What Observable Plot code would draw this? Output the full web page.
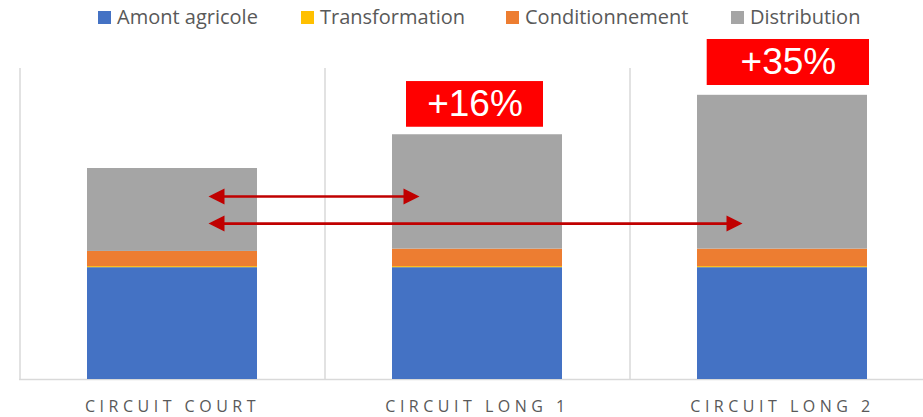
<!DOCTYPE html>
<html><head><meta charset="utf-8">
<script src="https://cdn.jsdelivr.net/npm/d3@7"></script>
<script src="https://cdn.jsdelivr.net/npm/@observablehq/plot@0.6"></script>
<style>
body{margin:0;background:#fff;}
#wrap{position:relative;width:923px;height:417px;overflow:hidden;}
#legend{position:absolute;left:98px;top:7px;display:flex;font-family:"Open Sans",sans-serif;font-size:20px;line-height:20px;color:#595959;white-space:nowrap;}
.item{display:flex;align-items:center;}
.sw{width:13px;height:13px;margin-right:6px;flex:none;}
</style>
</head><body>
<div id="wrap"><div id="legend"></div></div>
<script>
// ---- data ----
const categories = ["CIRCUIT COURT", "CIRCUIT LONG 1", "CIRCUIT LONG 2"];
const series = ["Amont agricole", "Transformation", "Conditionnement", "Distribution"];
const amont = [53, 53, 53];
const transformation = [0.5, 0.5, 0.5];
const conditionnement = [7.2, 8.3, 8.3];
const distribution = [39.3, 54.2, 72.9];
const increases = [null, "+16%", "+35%"];
const arrowFrom = ["CIRCUIT COURT", "CIRCUIT COURT"];
const arrowTo = ["CIRCUIT LONG 1", "CIRCUIT LONG 2"];
const arrowLevel = [86.7, 73.9];

const colors = ["#4472C4", "#FFC000", "#ED7D31", "#A5A5A5"];
const valuesBySeries = [amont, transformation, conditionnement, distribution];

const table = [];
series.forEach((s, si) => categories.forEach((c, ci) => table.push({cat: c, series: s, value: valuesBySeries[si][ci]})));
const totals = categories.map((c, ci) => ({cat: c, total: valuesBySeries.reduce((a, v) => a + v[ci], 0), label: increases[ci]}));
const arrows = arrowFrom.map((f, i) => ({from: f, to: arrowTo[i], y: arrowLevel[i]}));

// legend
const legend = document.getElementById("legend");
const itemWidths = [203, 205, 225, null];
series.forEach((s, i) => {
  const it = document.createElement("div");
  it.className = "item";
  if (itemWidths[i]) it.style.width = itemWidths[i] + "px";
  it.innerHTML = `<span class="sw" style="background:${colors[i]}"></span><span>${s}</span>`;
  legend.appendChild(it);
});

const triRight = {draw(c) { c.moveTo(0, 0); c.lineTo(-16, -8); c.lineTo(-16, 8); c.closePath(); }};
const triLeft = {draw(c) { c.moveTo(0, 0); c.lineTo(16, -8); c.lineTo(16, 8); c.closePath(); }};
const red = "#C00000";

const lbl1 = totals.filter(d => d.label === "+16%");
const lbl2 = totals.filter(d => d.label === "+35%");

const chart = Plot.plot({
  width: 923,
  height: 417,
  marginTop: 68,
  marginBottom: 38,
  marginLeft: 19,
  marginRight: 0,
  style: {color: "#595959", background: "transparent"},
  x: {type: "band", domain: categories, range: [19.5, 934.5], paddingInner: 0.4426, paddingOuter: 0.2213, label: null, axis: null},
  y: {domain: [0, 147.4], axis: null},
  color: {domain: series, range: colors},
  marks: [
    Plot.ruleX(categories, {x: d => d, dx: -152.5, stroke: "#D9D9D9", strokeWidth: 1.5}),
    Plot.ruleY([0], {stroke: "#D9D9D9", strokeWidth: 1.5}),
    Plot.barY(table, {x: "cat", y: "value", fill: "series"}),
    // arrows
    Plot.ruleY(arrows.slice(0, 1), {y: "y", x1: "from", x2: "to", insetLeft: 131, insetRight: 153, stroke: red, strokeWidth: 2.6}),
    Plot.ruleY(arrows.slice(1, 2), {y: "y", x1: "from", x2: "to", insetLeft: 131, insetRight: 135, stroke: red, strokeWidth: 2.6}),
    Plot.dot(arrows, {x: "from", y: "y", dx: 36, symbol: triLeft, fill: red, stroke: "none"}),
    Plot.dot(arrows.slice(0, 1), {x: "to", y: "y", dx: -58, symbol: triRight, fill: red, stroke: "none"}),
    Plot.dot(arrows.slice(1, 2), {x: "to", y: "y", dx: -40, symbol: triRight, fill: red, stroke: "none"}),
    // increase labels
    Plot.barY(lbl1, {x: "cat", y1: "total", y2: "total", insetTop: -53.2, insetBottom: 7.5, insetLeft: 14, insetRight: 19, fill: "#FF0000"}),
    Plot.barY(lbl2, {x: "cat", y1: "total", y2: "total", insetTop: -55.8, insetBottom: 9.8, insetLeft: 9.7, insetRight: -2, fill: "#FF0000"}),
    Plot.text(lbl1, {x: "cat", y: "total", text: "label", dx: -2.5, dy: -30.3, lineAnchor: "middle", fill: "white", fontSize: 37, fontFamily: "Liberation Sans, Arial, sans-serif"}),
    Plot.text(lbl2, {x: "cat", y: "total", text: "label", dx: 5.9, dy: -32.8, lineAnchor: "middle", fill: "white", fontSize: 37, fontFamily: "Liberation Sans, Arial, sans-serif"}),
    Plot.axisX({tickSize: 0, tickPadding: 21, fontSize: 16, fontFamily: "Open Sans, sans-serif", fill: "#595959", label: null})
  ]
});
chart.querySelectorAll('[aria-label="x-axis tick label"] text').forEach(t => t.setAttribute("letter-spacing", "4.5"));
chart.style.position = "absolute";
chart.style.left = "0";
chart.style.top = "0";
document.getElementById("wrap").insertBefore(chart, legend);
</script>
</body></html>
